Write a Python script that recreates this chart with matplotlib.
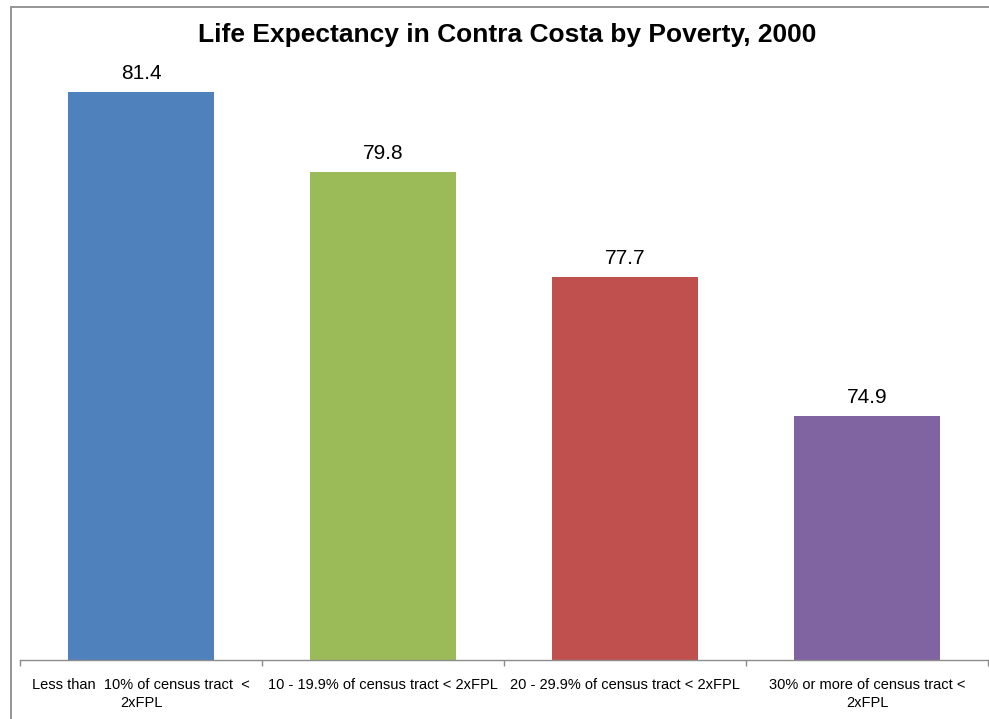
import numpy as np
import matplotlib
matplotlib.use("Agg")
import matplotlib.pyplot as plt
from matplotlib.patches import Rectangle

categories = [
    "Less than  10% of census tract  <\n2xFPL",
    "10 - 19.9% of census tract < 2xFPL",
    "20 - 29.9% of census tract < 2xFPL",
    "30% or more of census tract <\n2xFPL",
]
life_expectancy = [81.4, 79.8, 77.7, 74.9]
labels = ["81.4", "79.8", "77.7", "74.9"]
colors = ["#4F81BD", "#9BBB59", "#C0504D", "#8064A2"]

plt.rcParams["font.family"] = ["Liberation Sans", "DejaVu Sans"]

W, H = 989, 719
fig = plt.figure(figsize=(W / 100, H / 100), dpi=100)

# chart area border
fig.patches.append(Rectangle((10.5 / W, -0.1), 1.2, 1.1 - 6.5 / H, transform=fig.transFigure,
                             fill=False, edgecolor="#8c8c8c", linewidth=1.3))

ax = fig.add_axes([20 / W, 59 / H, 968 / W, 601 / H])
x = np.arange(len(categories))
bars = ax.bar(x, life_expectancy, width=0.6, color=colors, bottom=0)
ax.set_xlim(-0.5, 3.5)
ax.set_ylim(70, 82.07)

for xi, v, lab in zip(x, life_expectancy, labels):
    ax.annotate(lab, (xi, v), xytext=(0, 6.5), textcoords="offset points",
                ha="center", va="bottom", fontsize=15)

for s in ["top", "right", "left"]:
    ax.spines[s].set_visible(False)
ax.spines["bottom"].set_color("#8c8c8c")
ax.spines["bottom"].set_linewidth(1.0)
ax.set_yticks([])

ax.set_xticks(x)
ax.set_xticklabels(categories, fontsize=10.5, linespacing=1.4)
ax.tick_params(axis="x", which="major", length=0, pad=13)
ax.set_xticks(np.arange(-0.5, 4.0, 1.0), minor=True)
ax.tick_params(axis="x", which="minor", length=4, color="#8c8c8c", width=1.0)

fig.text(507 / W, 1 - 35 / H, "Life Expectancy in Contra Costa by Poverty, 2000",
         ha="center", va="center", fontsize=19, fontweight="bold")

fig.savefig("out.png", dpi=100)
